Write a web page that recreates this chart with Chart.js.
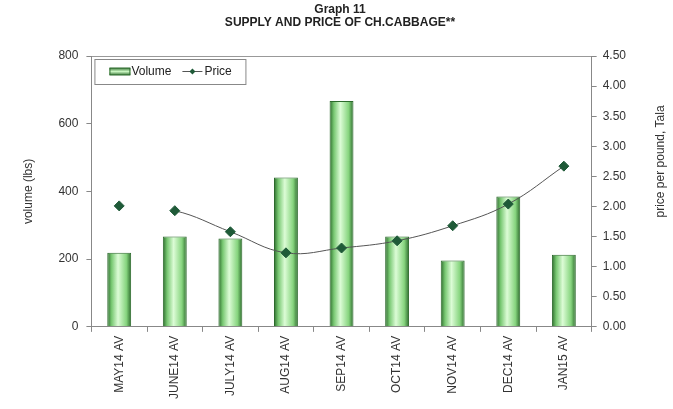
<!DOCTYPE html>
<html>
<head>
<meta charset="utf-8">
<script src="https://cdn.jsdelivr.net/npm/chart.js@4.4.1/dist/chart.umd.min.js"></script>
<style>
  html, body { margin: 0; padding: 0; background: #fff; }
  #wrap { width: 673px; height: 409px; }
</style>
</head>
<body>
<div id="wrap"><canvas id="chartContainer"></canvas></div>
<script>
var months = ['MAY14 AV', 'JUNE14 AV', 'JULY14 AV', 'AUG14 AV', 'SEP14 AV', 'OCT14 AV', 'NOV14 AV', 'DEC14 AV', 'JAN15 AV'];
var volume = [219, 267, 261, 441, 667, 267, 196, 385, 213];
var price = [2.01, 1.93, 1.58, 1.23, 1.31, 1.43, 1.68, 2.04, 2.67];
var volumeTicks = [0, 200, 400, 600, 800];
var priceTicks = [0, 0.5, 1, 1.5, 2, 2.5, 3, 3.5, 4, 4.5];
var titleLines = ['Graph 11', 'SUPPLY AND PRICE OF CH.CABBAGE**'];

var FONT = '"Liberation Sans", Arial, sans-serif';
var BAR_FRAC = 0.43;

function barFill(c) {
  var chart = c.chart;
  var xs = chart.scales.x;
  if (!chart.chartArea || !xs || c.dataIndex === undefined) return '#9fdc9a';
  var cx = xs.getPixelForValue(c.dataIndex);
  var w = xs.width / months.length * BAR_FRAC;
  var g = chart.ctx.createLinearGradient(cx - w / 2, 0, cx + w / 2, 0);
  g.addColorStop(0, '#2c6a2c');
  g.addColorStop(0.18, '#78c872');
  g.addColorStop(0.45, '#dcfcd6');
  g.addColorStop(0.8, '#86d47e');
  g.addColorStop(1, '#2c6a2c');
  return g;
}

// title, legend box inside the plot and right axis title (reads bottom to top)
var extras = {
  id: 'extras',
  afterDraw: function(chart) {
    var ctx = chart.ctx;
    var a = chart.chartArea;
    ctx.save();
    ctx.fillStyle = '#222';
    ctx.font = 'bold 12px ' + FONT;
    ctx.textAlign = 'center';
    ctx.textBaseline = 'middle';
    ctx.fillText(titleLines[0], 340, 10);
    ctx.fillText(titleLines[1], 340, 23);
    // legend
    var lx = a.left + 3, ly = a.top + 3, lw = 151, lh = 25;
    ctx.fillStyle = '#fff';
    ctx.fillRect(lx, ly, lw, lh);
    ctx.strokeStyle = '#888';
    ctx.lineWidth = 1;
    ctx.strokeRect(lx + 0.5, ly + 0.5, lw, lh);
    var my = ly + lh / 2;
    var gx = lx + 15;
    var g = ctx.createLinearGradient(0, my - 4, 0, my + 4);
    g.addColorStop(0, '#2c6a2c');
    g.addColorStop(0.5, '#c8f5c0');
    g.addColorStop(1, '#2c6a2c');
    ctx.fillStyle = g;
    ctx.fillRect(gx, my - 3.5, 21, 7);
    ctx.strokeStyle = '#2c6a2c';
    ctx.strokeRect(gx + 0.5, my - 3.5, 20, 7);
    ctx.fillStyle = '#222';
    ctx.font = '12px ' + FONT;
    ctx.textAlign = 'left';
    ctx.fillText('Volume', gx + 22, my);
    var px = lx + 88;
    ctx.strokeStyle = '#555';
    ctx.beginPath();
    ctx.moveTo(px, my);
    ctx.lineTo(px + 20, my);
    ctx.stroke();
    ctx.fillStyle = '#1f5a38';
    ctx.beginPath();
    ctx.moveTo(px + 10, my - 3);
    ctx.lineTo(px + 13, my);
    ctx.lineTo(px + 10, my + 3);
    ctx.lineTo(px + 7, my);
    ctx.closePath();
    ctx.fill();
    ctx.fillStyle = '#222';
    ctx.fillText('Price', px + 22, my);
    // right axis title
    ctx.translate(661, (a.top + a.bottom) / 2 - 30);
    ctx.rotate(-Math.PI / 2);
    ctx.textAlign = 'center';
    ctx.fillStyle = '#333';
    ctx.fillText('price per pound, Tala', 0, 0);
    ctx.restore();
  }
};

var chart = new Chart(document.getElementById('chartContainer'), {
  type: 'bar',
  data: {
    labels: months,
    datasets: [{
      type: 'line',
      label: 'Price',
      data: price,
      yAxisID: 'y1',
      borderColor: '#555',
      borderWidth: 1,
      tension: 0.4,
      pointStyle: 'rectRot',
      pointRadius: 5,
      pointBackgroundColor: '#1f5a38',
      pointBorderColor: '#1f5a38',
      segment: {
        borderColor: function(s) { return s.p0DataIndex === 0 ? 'rgba(0,0,0,0)' : '#555'; }
      },
      order: 0
    }, {
      label: 'Volume',
      data: volume,
      yAxisID: 'y',
      backgroundColor: barFill,
      borderColor: '#2c6a2c',
      borderWidth: 1,
      barPercentage: 0.5,
      categoryPercentage: 0.86,
      order: 1
    }]
  },
  options: {
    responsive: true,
    maintainAspectRatio: false,
    animation: false,
    layout: { padding: { left: 17, right: 41, top: 56, bottom: 6 } },
    plugins: {
      legend: { display: false },
      tooltip: { enabled: false },
      title: { display: false }
    },
    scales: {
      x: {
        offset: true,
        grid: {
          offset: true,
          drawOnChartArea: false,
          tickLength: 5,
          color: '#888'
        },
        border: { color: '#888' },
        ticks: {
          minRotation: 90,
          maxRotation: 90,
          color: '#333',
          font: { family: FONT, size: 12 },
          padding: 4
        }
      },
      y: {
        position: 'left',
        min: 0,
        max: 800,
        afterBuildTicks: function(s) { s.ticks = volumeTicks.map(function(v) { return { value: v }; }); },
        grid: {
          color: function(c) { return c.tick && c.tick.value === 800 ? '#999' : 'rgba(0,0,0,0)'; },
          tickColor: '#888',
          tickLength: 5
        },
        border: { color: '#888' },
        ticks: { color: '#333', font: { family: FONT, size: 12 }, padding: 8 },
        title: {
          display: true,
          text: 'volume (lbs)',
          color: '#333',
          font: { family: FONT, size: 12 },
          padding: { bottom: 15 }
        }
      },
      y1: {
        position: 'right',
        min: 0,
        max: 4.5,
        afterBuildTicks: function(s) { s.ticks = priceTicks.map(function(v) { return { value: v }; }); },
        grid: { drawOnChartArea: false, color: '#888', tickLength: 5 },
        border: { color: '#888' },
        ticks: {
          color: '#333',
          font: { family: FONT, size: 12 },
          padding: 6,
          callback: function(v) { return Number(v).toFixed(2); }
        }
      }
    }
  },
  plugins: [extras]
});
</script>
</body>
</html>
